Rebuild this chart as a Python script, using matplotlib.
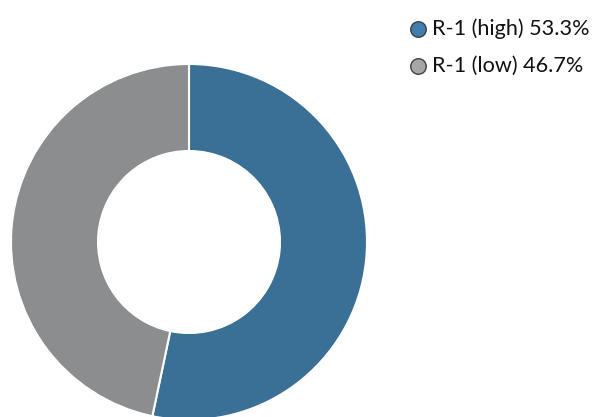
import matplotlib
matplotlib.use("Agg")
import matplotlib.pyplot as plt

labels = ["R-1 (high)", "R-1 (low)"]
values = [53.3, 46.7]
colors = ["#3a6f96", "#8c8d8f"]
legend_colors = ["#3f7fb0", "#a6a6a6"]

W, H = 595, 417
fig = plt.figure(figsize=(W / 100, H / 100), dpi=100)
ax = fig.add_axes([0, 0, 1, 1])

ax.pie(values, colors=colors, startangle=90, counterclock=False,
       center=(189, H - 242), radius=178, frame=True,
       wedgeprops=dict(width=178 - 91, edgecolor="white", linewidth=1.5))
ax.set_xlim(0, W)
ax.set_ylim(0, H)
ax.set_aspect("equal")
ax.axis("off")

for i, (lab, v) in enumerate(zip(labels, values)):
    y = H - (29 + 37 * i)
    ax.scatter([418], [y], s=125, color=legend_colors[i], edgecolor="#404040",
               linewidth=1.0, zorder=5, clip_on=False)
    ax.text(432, y, f"{lab} {v:.1f}%", fontsize=15.6, family="Lato",
            va="center", ha="left", color="#111111")

fig.savefig("out.png", dpi=100)
